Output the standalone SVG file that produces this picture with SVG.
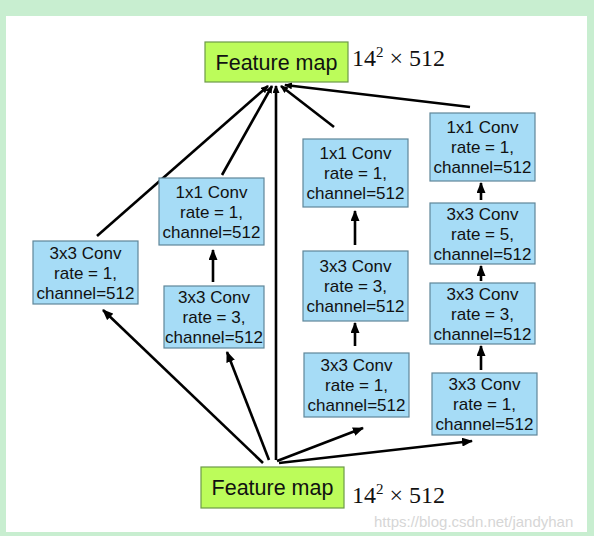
<svg xmlns="http://www.w3.org/2000/svg" width="594" height="536" viewBox="0 0 594 536">
<style>
.bx{fill:#a6dcf6;stroke:#5f8699;stroke-width:1.2}
.fm{fill:#bcfc5a;stroke:#6d9a48;stroke-width:1.2}
.t{font-family:"Liberation Sans",Arial,sans-serif;font-size:17px;fill:#111;text-anchor:middle}
.ft{font-family:"Liberation Sans",Arial,sans-serif;font-size:21.5px;fill:#111;text-anchor:middle}
.dim{font-family:"Liberation Serif","Times New Roman",serif;font-size:24px;fill:#111}
.c{stroke:#000;stroke-width:2.6;fill:none;marker-end:url(#ah)}
.ct{stroke:#000;stroke-width:2.6;fill:none;marker-end:url(#ahs)}
.wm{font-family:"Liberation Sans",Arial,sans-serif;font-size:15px;fill:#d6d6d6}
</style>
<defs>
<marker id="ah" markerUnits="userSpaceOnUse" markerWidth="11" markerHeight="9" refX="10" refY="4.5" orient="auto">
<path d="M0,0 L11,4.5 L0,9 z" fill="#000"/>
</marker>
<marker id="ahs" markerUnits="userSpaceOnUse" markerWidth="8" markerHeight="7" refX="7" refY="3.5" orient="auto">
<path d="M0,0 L8,3.5 L0,7 z" fill="#000"/>
</marker>
</defs>
<rect x="0" y="0" width="594" height="536" fill="#c8eed0"/>
<rect x="6" y="16" width="581" height="516" fill="#ffffff"/>

<g id="connectors">
<line class="ct" x1="97" y1="236" x2="268" y2="86"/>
<line class="ct" x1="222" y1="175" x2="272" y2="86"/>
<line class="ct" x1="276" y1="460" x2="276" y2="86"/>
<line class="ct" x1="334" y1="127" x2="281" y2="86"/>
<line class="ct" x1="470" y1="107" x2="285" y2="85"/>
<line class="c" x1="263" y1="463" x2="103" y2="310"/>
<line class="c" x1="269" y1="460" x2="227" y2="352"/>
<line class="c" x1="277" y1="461" x2="363" y2="428"/>
<line class="c" x1="279" y1="463" x2="472" y2="441"/>
<line class="c" x1="213" y1="282" x2="213" y2="250"/>
<line class="c" x1="355" y1="245" x2="355" y2="211"/>
<line class="c" x1="355" y1="346" x2="355" y2="323"/>
<line class="c" x1="481" y1="200" x2="481" y2="183"/>
<line class="c" x1="481" y1="281" x2="481" y2="266"/>
<line class="c" x1="481" y1="370" x2="481" y2="346"/>
</g>

<g id="fm-top">
<rect class="fm" x="205" y="42" width="143" height="40"/>
<text class="ft" x="276.5" y="70">Feature map</text>
</g>
<text class="dim" x="352" y="66">14<tspan font-size="15" dy="-9">2</tspan><tspan dy="9"> × 512</tspan></text>

<g id="fm-bottom">
<rect class="fm" x="201" y="467" width="143" height="41"/>
<text class="ft" x="272.5" y="495">Feature map</text>
</g>
<text class="dim" x="352" y="503">14<tspan font-size="15" dy="-9">2</tspan><tspan dy="9"> × 512</tspan></text>

<g id="b1">
<rect class="bx" x="33" y="241" width="105" height="63"/>
<text class="t" x="85.5" y="259">3x3 Conv</text>
<text class="t" x="85.5" y="279">rate = 1,</text>
<text class="t" x="85.5" y="299">channel=512</text>
</g>

<g id="b2a">
<rect class="bx" x="159" y="178" width="105" height="67"/>
<text class="t" x="211.5" y="198">1x1 Conv</text>
<text class="t" x="211.5" y="218">rate = 1,</text>
<text class="t" x="211.5" y="238">channel=512</text>
</g>
<g id="b2b">
<rect class="bx" x="164" y="286" width="100" height="62"/>
<text class="t" x="214" y="303">3x3 Conv</text>
<text class="t" x="214" y="323">rate = 3,</text>
<text class="t" x="214" y="343">channel=512</text>
</g>

<g id="b3a">
<rect class="bx" x="303" y="139" width="105" height="68"/>
<text class="t" x="355.5" y="159">1x1 Conv</text>
<text class="t" x="355.5" y="179">rate = 1,</text>
<text class="t" x="355.5" y="199">channel=512</text>
</g>
<g id="b3b">
<rect class="bx" x="303" y="251" width="105" height="70"/>
<text class="t" x="355.5" y="272">3x3 Conv</text>
<text class="t" x="355.5" y="292">rate = 3,</text>
<text class="t" x="355.5" y="312">channel=512</text>
</g>
<g id="b3c">
<rect class="bx" x="304" y="353" width="105" height="64"/>
<text class="t" x="356.5" y="371">3x3 Conv</text>
<text class="t" x="356.5" y="391">rate = 1,</text>
<text class="t" x="356.5" y="411">channel=512</text>
</g>

<g id="b4a">
<rect class="bx" x="430" y="113" width="105" height="68"/>
<text class="t" x="482.5" y="133">1x1 Conv</text>
<text class="t" x="482.5" y="153">rate = 1,</text>
<text class="t" x="482.5" y="173">channel=512</text>
</g>
<g id="b4b">
<rect class="bx" x="430" y="203" width="105" height="61"/>
<text class="t" x="482.5" y="220">3x3 Conv</text>
<text class="t" x="482.5" y="240">rate = 5,</text>
<text class="t" x="482.5" y="260">channel=512</text>
</g>
<g id="b4c">
<rect class="bx" x="430" y="283" width="105" height="61"/>
<text class="t" x="482.5" y="300">3x3 Conv</text>
<text class="t" x="482.5" y="320">rate = 3,</text>
<text class="t" x="482.5" y="340">channel=512</text>
</g>
<g id="b4d">
<rect class="bx" x="432" y="373" width="105" height="62"/>
<text class="t" x="484.5" y="390">3x3 Conv</text>
<text class="t" x="484.5" y="410">rate = 1,</text>
<text class="t" x="484.5" y="430">channel=512</text>
</g>

<text class="wm" x="374" y="527">https://blog.csdn.net/jandyhan</text>
</svg>
